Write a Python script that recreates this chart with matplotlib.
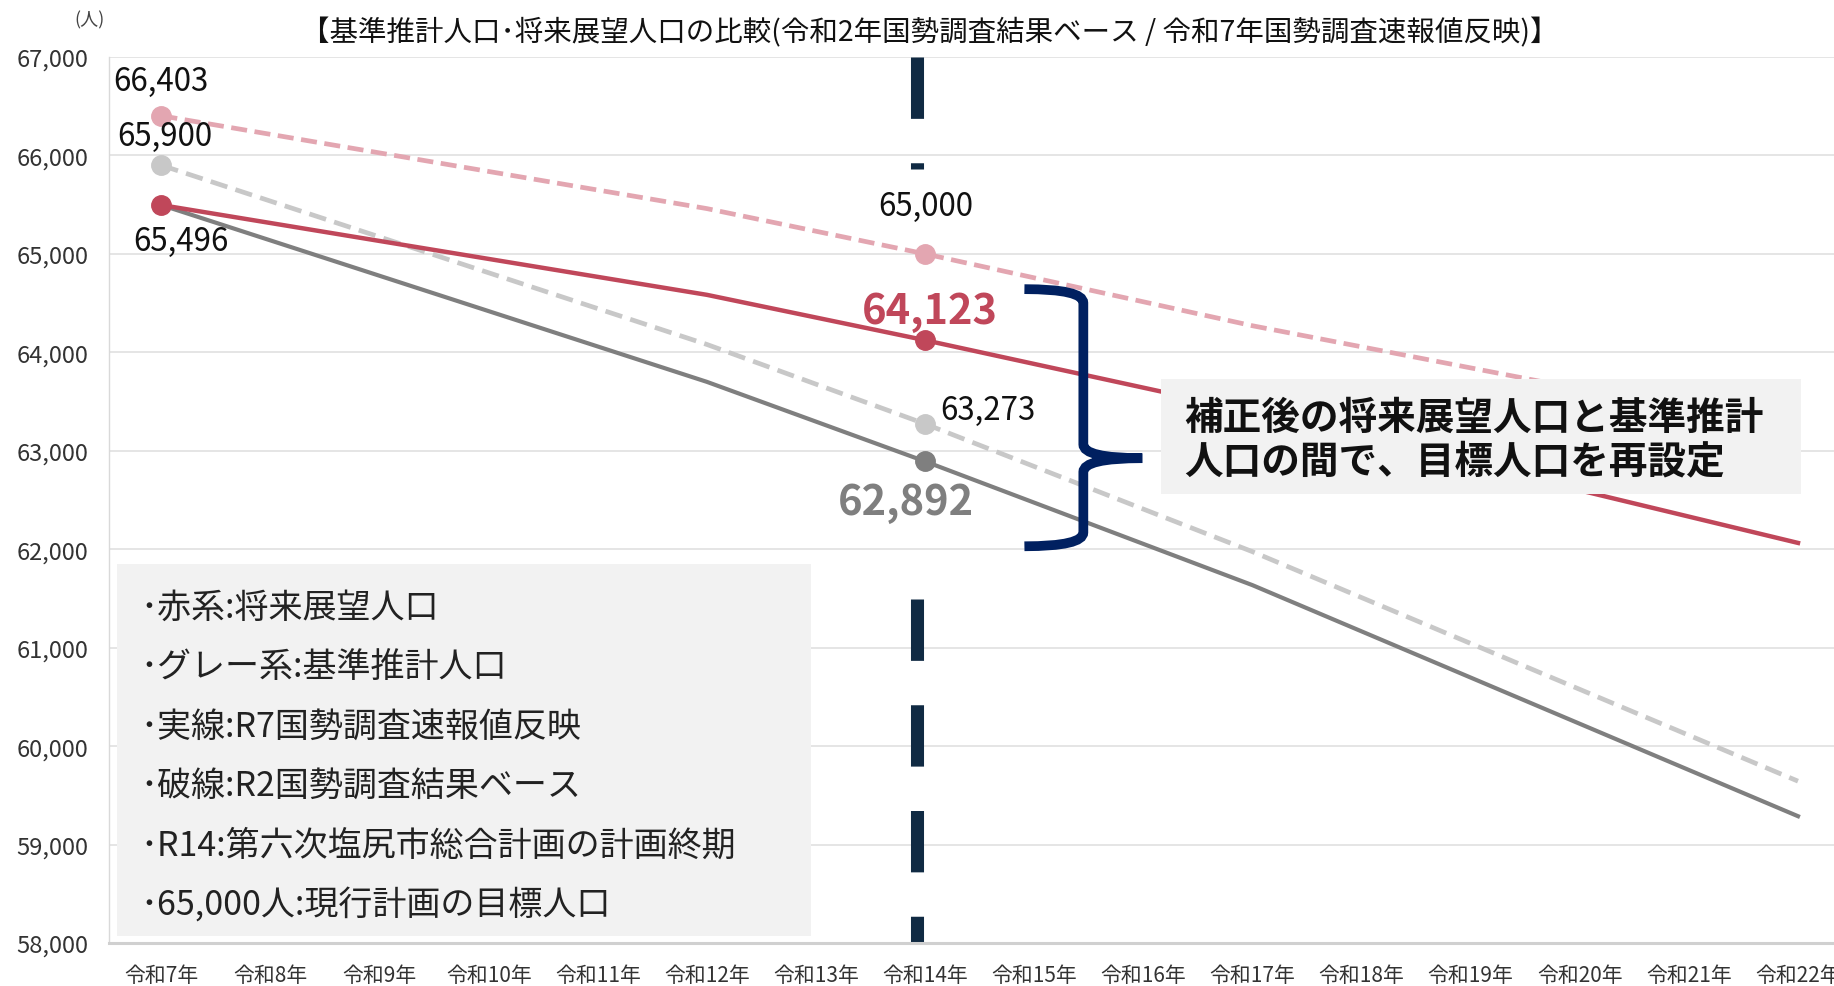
"""
基準推計人口・将来展望人口の比較 (line chart with annotations)
"""

import matplotlib
matplotlib.use("Agg")
import matplotlib.pyplot as plt
from matplotlib.path import Path
from matplotlib.patches import PathPatch, Rectangle

plt.rcParams["font.family"] = ["Noto Sans CJK JP", "DejaVu Sans"]

W, H, DPI = 1834, 987, 100

# ─── Data ─────────────────────────────────────────────────────────────────────

TICK_YEARS   = list(range(7, 23))                     # 令和7年 … 令和22年
TICK_LABELS  = [f"令和{y}年" for y in TICK_YEARS]
KEY_YEARS    = [7, 12, 14, 17, 22]

future_r7    = [65496, 64584, 64123, 63400, 62064]    # 赤・実線
future_r2    = [66403, 65460, 65000, 64270, 63200]    # 赤・破線
base_r7      = [65496, 63700, 62892, 61635, 59288]    # グレー・実線
base_r2      = [65900, 64080, 63273, 61975, 59644]    # グレー・破線

Y_TICKS      = list(range(58000, 67001, 1000))
PLAN_END     = 14

TITLE = "【基準推計人口･将来展望人口の比較(令和2年国勢調査結果ベース / 令和7年国勢調査速報値反映)】"
NOTE_LINES = [
    "･赤系:将来展望人口",
    "･グレー系:基準推計人口",
    "･実線:R7国勢調査速報値反映",
    "･破線:R2国勢調査結果ベース",
    "･R14:第六次塩尻市総合計画の計画終期",
    "･65,000人:現行計画の目標人口",
]
CALLOUT = ["補正後の将来展望人口と基準推計", "人口の間で、目標人口を再設定"]

RED, PINK = "#C0475A", "#E3A6B1"
GRAY, LGRAY = "#7F7F7F", "#C8C8C8"
NAVY, BRACE = "#102A43", "#002060"
BOX = "#F2F2F2"


def fxy(px, py):
    """Reference pixel position -> figure fraction."""
    return px / W, 1 - py / H


fig = plt.figure(figsize=(W / DPI, H / DPI), dpi=DPI)
ax = fig.add_axes([109 / W, 43 / H, 1 - 109 / W, (944 - 58) / H])

# ─── Lines ────────────────────────────────────────────────────────────────────

ax.plot(KEY_YEARS, base_r2, color=LGRAY, lw=3.4, dashes=(3.7, 1.8),
        marker="o", ms=14, markevery=[0, 2], zorder=3)
ax.plot(KEY_YEARS, future_r2, color=PINK, lw=3.4, dashes=(3.4, 1.6),
        marker="o", ms=14, markevery=[0, 2], zorder=3)
ax.plot(KEY_YEARS, base_r7, color=GRAY, lw=3.0,
        marker="o", ms=14, markevery=[2], zorder=4)
ax.plot(KEY_YEARS, future_r7, color=RED, lw=3.2,
        marker="o", ms=14, markevery=[0, 2], zorder=5)

# plan-end marker (R14), split where the value labels sit
vx = PLAN_END - 0.07
ax.plot([vx, vx], [67000, 65864], color=NAVY, lw=9.4, dashes=(4.7, 3.4),
        dash_capstyle="butt", zorder=2)
ax.plot([vx, vx], [61490, 58000], color=NAVY, lw=9.4, dashes=(4.7, 3.4),
        dash_capstyle="butt", zorder=2)

# ─── Value labels ─────────────────────────────────────────────────────────────

def label(x, y, text, dx, dy, color="#111111", size=22.5, bold=False):
    ax.annotate(text, (x, y), xytext=(dx * 0.72, dy * 0.72),
                textcoords="offset points", ha="center", va="center",
                fontsize=size, color=color,
                fontweight="bold" if bold else "normal", zorder=6)

i7, i14 = KEY_YEARS.index(7), KEY_YEARS.index(14)
label(7, future_r2[i7], f"{future_r2[i7]:,}", 0, 35)
label(7, base_r2[i7], f"{base_r2[i7]:,}", 3, 29)
label(7, future_r7[i7], f"{future_r7[i7]:,}", 20, -36)
label(14, future_r2[i14], f"{future_r2[i14]:,}", 1, 48)
label(14, future_r7[i14], f"{future_r7[i14]:,}", 5, 29, color=RED, size=30, bold=True)
label(14, base_r2[i14], f"{base_r2[i14]:,}", 63, 14)
label(14, base_r7[i14], f"{base_r7[i14]:,}", -19, -41, color=GRAY, size=30, bold=True)

# ─── Brace ────────────────────────────────────────────────────────────────────

xt, xv, xp = 14.91, 15.45, 15.99
yt, ym, yb, r = 64642, 62925, 62030, 140
verts = [(xt, yt), (xv, yt), (xv, yt - r), (xv, ym + r), (xv, ym), (xp, ym),
         (xp, ym), (xv, ym), (xv, ym - r), (xv, yb + r), (xv, yb), (xt, yb)]
codes = [Path.MOVETO, Path.CURVE3, Path.CURVE3, Path.LINETO, Path.CURVE3, Path.CURVE3,
         Path.MOVETO, Path.CURVE3, Path.CURVE3, Path.LINETO, Path.CURVE3, Path.CURVE3]
ax.add_patch(PathPatch(Path(verts, codes), fill=False, edgecolor=BRACE, lw=7,
                       capstyle="butt", zorder=6))

# ─── Text boxes ───────────────────────────────────────────────────────────────

x0, y0 = fxy(1161, 495)
x1, y1 = fxy(1801, 380)
ax.add_patch(Rectangle((x0, y0), x1 - x0, y1 - y0, transform=fig.transFigure,
                       facecolor=BOX, edgecolor="none", zorder=7))
for line, py in zip(CALLOUT, [418, 462]):
    ax.text(*fxy(1184, py), line, transform=fig.transFigure, ha="left", va="center",
            fontsize=27.8, fontweight="bold", color="#111111", zorder=8)

x0, y0 = fxy(117, 937)
x1, y1 = fxy(811, 565)
ax.add_patch(Rectangle((x0, y0), x1 - x0, y1 - y0, transform=fig.transFigure,
                       facecolor=BOX, edgecolor="none", zorder=7))
for i, line in enumerate(NOTE_LINES):
    ax.text(*fxy(140, 608 + i * 59.5), line, transform=fig.transFigure, ha="left",
            va="center", fontsize=24.5, color="#222222", zorder=8)

# ─── Axes styling ─────────────────────────────────────────────────────────────

ax.set_xlim(6.52, 22.33)
ax.set_ylim(58000, 67000)
ax.set_xticks(TICK_YEARS, TICK_LABELS)
ax.set_yticks(Y_TICKS, [f"{v:,}" for v in Y_TICKS])
ax.tick_params(axis="x", length=0, pad=15, labelsize=15, labelcolor="#333333")
ax.tick_params(axis="y", length=0, pad=15, labelsize=17, labelcolor="#333333")
ax.grid(axis="y", color="#E0E0E0", lw=1.2, zorder=0)
ax.set_axisbelow(True)
for side in ("top", "right"):
    ax.spines[side].set_visible(False)
ax.spines["left"].set_color("#D9D9D9")
ax.spines["left"].set_linewidth(1.0)
ax.spines["bottom"].set_color("#D0D0D0")
ax.spines["bottom"].set_linewidth(2.2)

fig.text(*fxy(89, 20), "(人)", ha="center", va="center", fontsize=13, color="#444444")
fig.text(*fxy(930, 33), TITLE, ha="center", va="center", fontsize=20.5, color="#111111")

fig.savefig("out.png", dpi=DPI)
